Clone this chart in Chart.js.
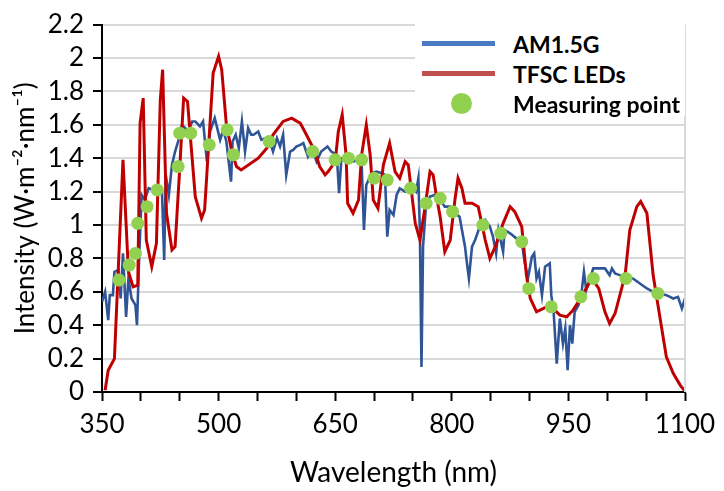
<!DOCTYPE html>
<html>
<head>
<meta charset="utf-8">
<script src="https://cdn.jsdelivr.net/npm/chart.js@4"></script>
<style>
  html, body { margin: 0; padding: 0; background: #fff; }
  #wrap { position: relative; width: 724px; height: 491px; }
  #legend { position: absolute; left: 415px; top: 24px; width: 270px; height: 92px; background: #fff;
            font-family: Lato, "Open Sans", sans-serif; font-weight: bold; font-size: 23px; color: #000; }
  .row { position: absolute; left: 0; width: 270px; height: 30px; }
  .sym { position: absolute; }
  .lbl { position: absolute; left: 98px; top: 0; line-height: 30px; white-space: nowrap; }
</style>
</head>
<body>
<div id="wrap">
  <canvas id="c" width="724" height="491"></canvas>
  <div id="legend"></div>
</div>
<script>
// AM1.5G reference spectrum (wavelength nm, intensity)
const amWl = [350,354,358,360,364,366,371,374,377,381,384,388,393,395,398,401,405,410,416,422,427,430,432,436,440,444,448,453,457,461,466,470,476,480,485,489,495,502,506,510,516,518,522,526,530,534,538,542,545,551,555,560,566,570,575,579,583,587,592,596,600,605,609,615,620,626,632,640,645,652,655,658,665,673,680,684,687,690,697,703,710,714,717,720,725,729,733,740,746,750,754,757,759,761,763,767,772,778,785,791,798,804,810,817,819,822,826,830,836,843,849,853,857,860,866,868,875,883,890,894,898,903,906,909,912,916,920,926,928,931,935,939,943,946,949,952,955,958,963,967,970,973,978,982,989,997,1003,1006,1010,1016,1025,1033,1042,1051,1059,1068,1076,1085,1091,1096,1100];
const amVal = [0.54,0.60,0.43,0.58,0.58,0.72,0.73,0.56,0.83,0.45,0.68,0.56,0.52,0.40,0.83,1.18,1.15,1.22,1.21,1.22,1.22,0.79,1.30,1.18,1.36,1.44,1.50,1.60,1.58,1.56,1.62,1.62,1.59,1.62,1.38,1.56,1.64,1.51,1.57,1.50,1.26,1.50,1.54,1.46,1.62,1.44,1.58,1.54,1.54,1.56,1.51,1.52,1.50,1.44,1.52,1.47,1.54,1.30,1.44,1.45,1.47,1.48,1.49,1.41,1.46,1.38,1.44,1.47,1.44,1.42,1.19,1.40,1.40,1.38,1.39,1.37,0.97,1.24,1.31,1.32,1.31,1.30,0.93,1.09,1.06,1.18,1.22,1.20,1.22,1.22,1.20,1.28,0.95,0.15,0.87,1.13,1.17,1.18,1.15,1.11,1.11,1.07,1.05,0.87,0.79,0.68,0.87,0.91,0.99,1.03,0.99,0.93,0.83,0.97,0.84,0.97,0.95,0.92,0.90,0.77,0.68,0.81,0.83,0.68,0.72,0.58,0.75,0.77,0.58,0.48,0.17,0.44,0.29,0.38,0.13,0.40,0.29,0.48,0.52,0.60,0.72,0.61,0.68,0.74,0.74,0.74,0.70,0.74,0.71,0.70,0.68,0.68,0.65,0.62,0.60,0.59,0.58,0.56,0.57,0.50,0.56];

// TFSC LEDs spectrum
const ledWl = [354,358,366,377,384,390,396,399,403,407,414,420,425,428,433,440,444,450,455,460,470,478,482,493,500,504,510,517,523,529,551,562,570,583,594,605,613,624,630,637,641,650,654,659,664,666,673,680,684,690,695,699,705,712,720,727,733,740,744,753,759,765,772,776,780,785,791,798,804,808,813,817,826,834,843,849,856,866,875,881,890,896,901,909,922,928,939,948,956,967,980,989,997,1003,1010,1023,1029,1038,1043,1051,1059,1068,1076,1085,1094,1099];
const ledVal = [0.01,0.13,0.20,1.39,0.72,0.63,0.64,1.61,1.76,0.91,0.75,0.89,1.75,1.93,1.07,0.85,0.87,1.34,1.76,1.74,1.17,1.04,1.09,1.91,2.01,1.93,1.60,1.44,1.35,1.33,1.40,1.46,1.54,1.62,1.64,1.61,1.54,1.44,1.35,1.30,1.32,1.38,1.56,1.66,1.42,1.13,1.07,1.15,1.42,1.60,1.42,1.15,1.10,1.36,1.49,1.32,1.28,1.38,1.36,1.01,0.91,1.09,1.32,1.30,1.18,1.05,0.84,0.91,1.15,1.28,1.22,1.13,1.13,1.11,0.91,0.80,0.87,1.01,1.11,1.08,0.99,0.70,0.56,0.48,0.51,0.51,0.46,0.45,0.49,0.57,0.68,0.62,0.48,0.41,0.47,0.70,0.97,1.11,1.14,1.07,0.70,0.44,0.21,0.11,0.04,0.01];

// Measuring points
const ptWl = [372,385,393,396,408,421,448,450,464,488,511,519,565,621,650,667,684,700,717,747,767,785,801,840,863,890,899,928,966,982,1024,1065];
const ptVal = [0.67,0.76,0.83,1.01,1.11,1.21,1.35,1.55,1.55,1.48,1.57,1.42,1.50,1.44,1.39,1.40,1.39,1.28,1.27,1.22,1.13,1.16,1.08,1.00,0.95,0.90,0.62,0.51,0.57,0.68,0.68,0.59];

const seriesNames = ['AM1.5G', 'TFSC LEDs', 'Measuring point'];
const xTitle = 'Wavelength (nm)';
const yTitle = 'Intensity (W·m⁻²·nm⁻¹)';

const pairs = (xs, ys) => xs.map((x, i) => ({ x: x, y: ys[i] }));

const FONT = 'Lato, "Open Sans", sans-serif';

// right frame line of the plot area
const frame = {
  id: 'frame',
  afterDatasetsDraw(chart) {
    const a = chart.chartArea, ctx = chart.ctx;
    ctx.save();
    ctx.strokeStyle = '#d9d9d9';
    ctx.lineWidth = 2;
    ctx.beginPath();
    ctx.moveTo(a.right, a.top);
    ctx.lineTo(a.right, a.bottom);
    ctx.stroke();
    ctx.restore();
  }
};

new Chart(document.getElementById('c'), {
  type: 'line',
  data: {
    datasets: [
      {
        label: seriesNames[2],
        data: pairs(ptWl, ptVal),
        showLine: false,
        pointRadius: 6.5,
        pointBackgroundColor: '#92d050',
        pointBorderWidth: 0,
        order: 0
      },
      {
        label: seriesNames[1],
        data: pairs(ledWl, ledVal),
        borderColor: '#c00000',
        borderWidth: 3,
        pointRadius: 0,
        tension: 0,
        order: 1
      },
      {
        label: seriesNames[0],
        data: pairs(amWl, amVal),
        borderColor: '#2f5597',
        borderWidth: 2.6,
        pointRadius: 0,
        tension: 0,
        order: 2
      }
    ]
  },
  options: {
    responsive: false,
    animation: false,
    layout: { padding: { top: 4, right: 39, left: 0, bottom: 0 } },
    plugins: {
      legend: { display: false },
      tooltip: { enabled: false }
    },
    scales: {
      x: {
        type: 'linear',
        min: 350,
        max: 1100,
        afterBuildTicks: (scale) => {
          scale.ticks = [];
          for (let v = 350; v <= 1100; v += 50) scale.ticks.push({ value: v });
        },
        afterFit: (scale) => { scale.height = 99; },
        ticks: {
          autoSkip: false,
          maxRotation: 0,
          padding: 8,
          color: '#000',
          font: { family: FONT, size: 26 },
          callback: (v) => ((v - 350) % 150 === 0 ? String(v) : '')
        },
        grid: { drawOnChartArea: false, tickLength: 9, tickColor: '#000', tickWidth: 2 },
        border: { color: '#000', width: 2 },
        title: {
          display: true,
          text: xTitle,
          color: '#000',
          font: { family: FONT, size: 28 },
          padding: { top: 4, bottom: 1 }
        }
      },
      y: {
        min: 0,
        max: 2.2,
        afterBuildTicks: (scale) => {
          scale.ticks = [];
          for (let i = 0; i <= 11; i++) scale.ticks.push({ value: +(i * 0.2).toFixed(1) });
        },
        afterFit: (scale) => { scale.width = 102; },
        ticks: {
          autoSkip: false,
          padding: 9,
          color: '#000',
          font: { family: FONT, size: 26 },
          callback: (v) => String(+v.toFixed(1))
        },
        grid: { color: '#d9d9d9', lineWidth: 2, tickLength: 9, tickColor: '#000', tickWidth: 2 },
        border: { color: '#000', width: 2 },
        title: {
          display: true,
          text: yTitle,
          color: '#000',
          font: { family: FONT, size: 26 },
          padding: { top: 10, bottom: 0 }
        }
      }
    }
  },
  plugins: [frame]
});

// legend
const legend = document.getElementById('legend');
const legendSyms = [
  'left:7px;top:12px;width:73px;height:5px;background:#4a7ac4;',
  'left:7px;top:12px;width:73px;height:5px;background:#c0504d;',
  'left:36px;top:4px;width:21px;height:21px;border-radius:50%;background:#92d050;'
];
seriesNames.forEach((name, i) => {
  const row = document.createElement('div');
  row.className = 'row';
  row.style.top = (5 + i * 30) + 'px';
  const sym = document.createElement('div');
  sym.className = 'sym';
  sym.style.cssText = legendSyms[i];
  const lbl = document.createElement('div');
  lbl.className = 'lbl';
  lbl.textContent = name;
  row.appendChild(sym);
  row.appendChild(lbl);
  legend.appendChild(row);
});
</script>
</body>
</html>
